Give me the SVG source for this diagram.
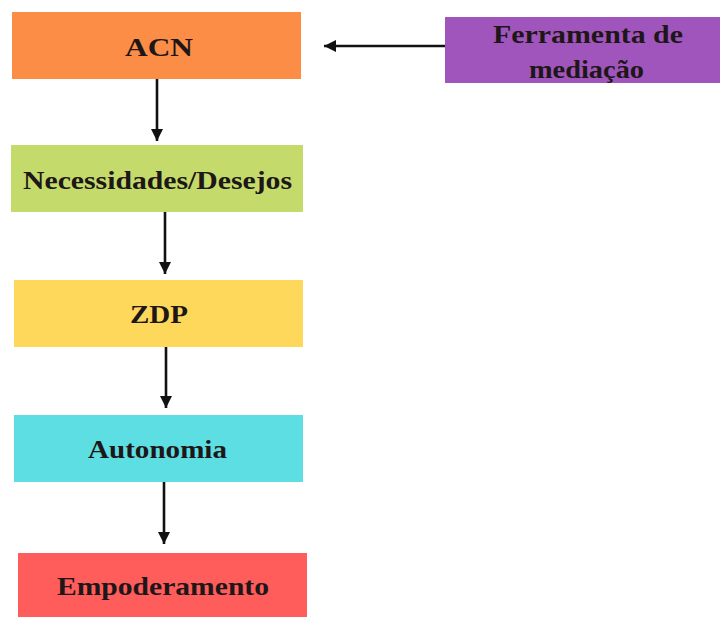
<svg xmlns="http://www.w3.org/2000/svg" width="722" height="617" viewBox="0 0 722 617">
  <style>
    .lbl { font-family: "Liberation Serif", "Times New Roman", serif; font-weight: bold; font-size: 25px; fill: #1e1717; text-anchor: middle; }
    .conn { stroke: #111; stroke-width: 2.6; fill: none; marker-end: url(#ah); }
  </style>
  <defs>
    <marker id="ah" markerUnits="userSpaceOnUse" markerWidth="12" markerHeight="12" viewBox="0 0 10 10" refX="10" refY="5" orient="auto">
      <path d="M0,0 L10,5 L0,10 z" fill="#111"/>
    </marker>
  </defs>
  <rect width="722" height="617" fill="#ffffff"/>

  <g id="connectors">
    <line class="conn" x1="157" y1="79" x2="157" y2="141"/>
    <line class="conn" x1="165" y1="212" x2="165" y2="274"/>
    <line class="conn" x1="166" y1="347" x2="166" y2="408"/>
    <line class="conn" x1="164" y1="482" x2="164" y2="544"/>
    <line class="conn" x1="445" y1="46" x2="324" y2="46"/>
  </g>

  <g id="acn">
    <rect x="12" y="12" width="289" height="67" fill="#FB8D46"/>
    <text class="lbl" x="159" y="56" textLength="68" lengthAdjust="spacingAndGlyphs" font-size="27">ACN</text>
  </g>
  <g id="necessidades">
    <rect x="11" y="145" width="292" height="67" fill="#C4DB6B"/>
    <text class="lbl" x="157.5" y="189" textLength="269" lengthAdjust="spacingAndGlyphs">Necessidades/Desejos</text>
  </g>
  <g id="zdp">
    <rect x="14" y="280" width="289" height="67" fill="#FDD85B"/>
    <text class="lbl" x="159" y="323" textLength="58" lengthAdjust="spacingAndGlyphs">ZDP</text>
  </g>
  <g id="autonomia">
    <rect x="14" y="415" width="289" height="67" fill="#5CDEE3"/>
    <text class="lbl" x="157.5" y="458" textLength="139" lengthAdjust="spacingAndGlyphs">Autonomia</text>
  </g>
  <g id="empoderamento">
    <rect x="18" y="553" width="289" height="64" fill="#FF5C5C"/>
    <text class="lbl" x="163" y="595" textLength="212" lengthAdjust="spacingAndGlyphs">Empoderamento</text>
  </g>
  <g id="ferramenta">
    <rect x="445" y="17" width="275" height="66" fill="#A055BD"/>
    <text class="lbl" x="588" y="43" textLength="190" lengthAdjust="spacingAndGlyphs">Ferramenta de</text>
    <text class="lbl" x="586.5" y="78" textLength="115" lengthAdjust="spacingAndGlyphs">mediação</text>
  </g>
</svg>
